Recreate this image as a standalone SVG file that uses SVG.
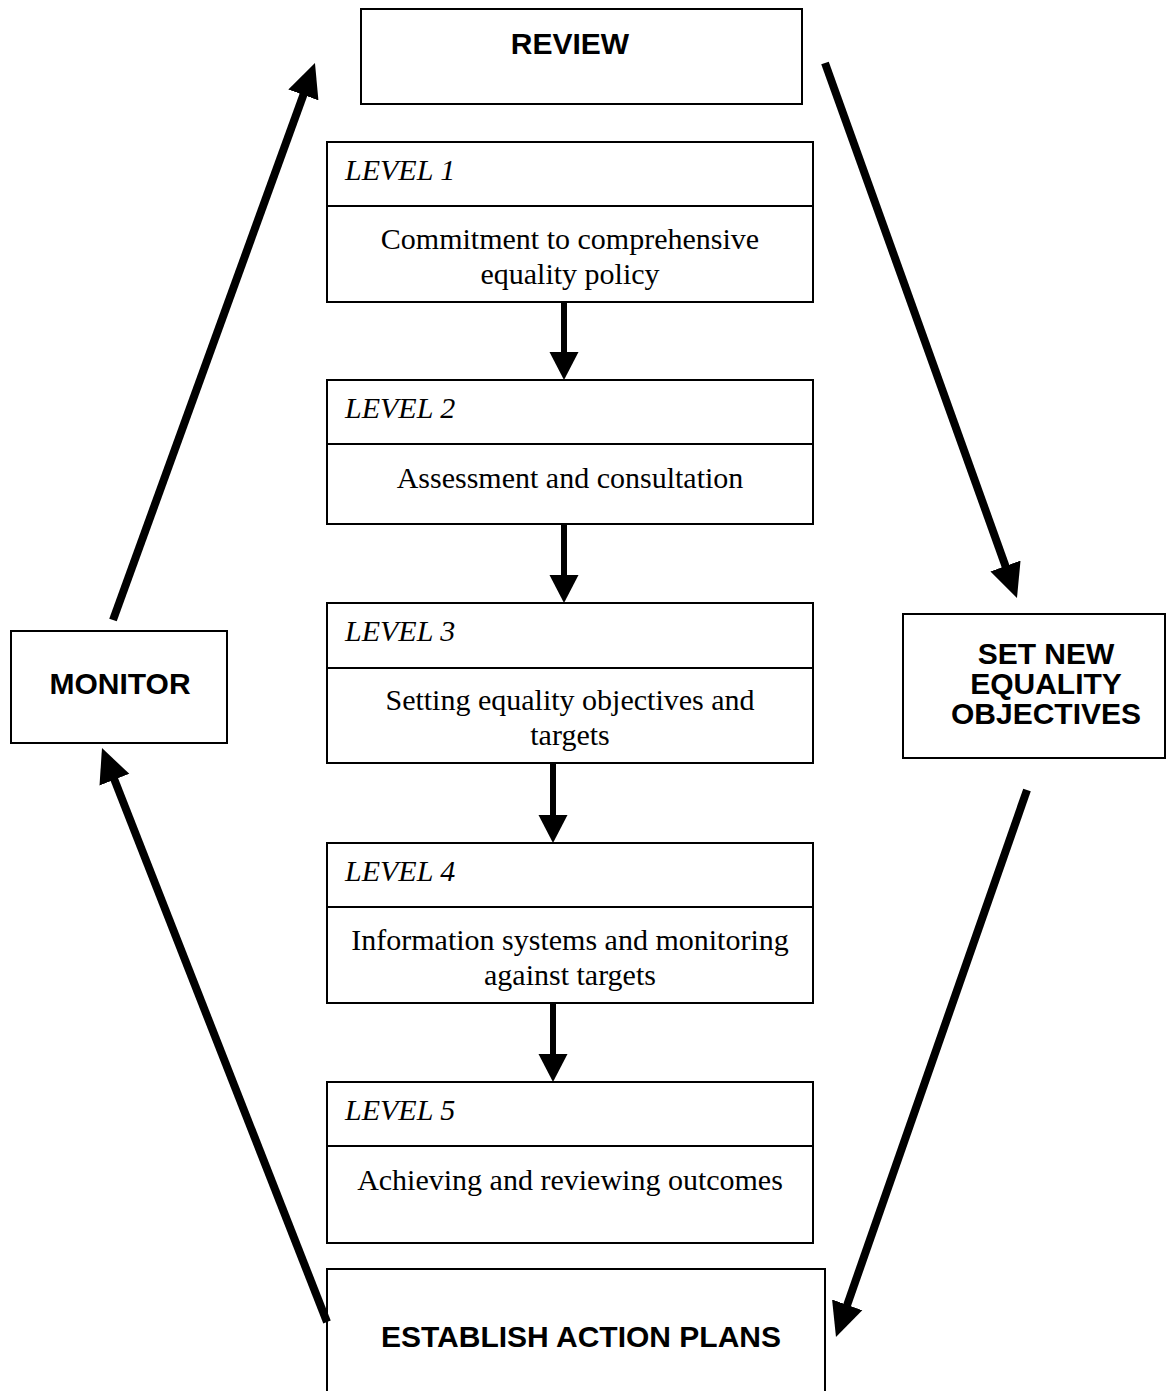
<svg xmlns="http://www.w3.org/2000/svg" width="1166" height="1391" viewBox="0 0 1166 1391">
<style>
.box{fill:#fff;stroke:#000;stroke-width:2}
.div{stroke:#000;stroke-width:2}
.sb{font-family:"Liberation Sans",Arial,sans-serif;font-weight:bold;font-size:30px;fill:#000}
.lv{font-family:"Liberation Serif","Times New Roman",serif;font-style:italic;font-size:30px;fill:#000}
.tx{font-family:"Liberation Serif","Times New Roman",serif;font-size:30px;fill:#000;text-anchor:middle}
.big{stroke:#000;stroke-width:8;fill:none;marker-end:url(#bigHead)}
.sm{stroke:#000;stroke-width:6;fill:none;marker-end:url(#smHead)}
</style>
<defs>
<marker id="bigHead" markerUnits="userSpaceOnUse" viewBox="0 0 34 34" markerWidth="34" markerHeight="34" refX="3" refY="17" orient="auto">
<path d="M0,1 L34,17 L0,33 Z" fill="#000"/>
</marker>
<marker id="smHead" markerUnits="userSpaceOnUse" viewBox="0 0 28 30" markerWidth="28" markerHeight="30" refX="2" refY="15" orient="auto">
<path d="M0,0.5 L28,15 L0,29.5 Z" fill="#000"/>
</marker>
</defs>
<rect width="1166" height="1391" fill="#fff"/>

<g id="review">
<rect class="box" x="361" y="9" width="441" height="95"/>
<text class="sb" x="570" y="54" text-anchor="middle">REVIEW</text>
</g>

<g id="level1">
<rect class="box" x="327" y="142" width="486" height="160"/>
<line class="div" x1="327" y1="206" x2="813" y2="206"/>
<text class="lv" x="345" y="180">LEVEL 1</text>
<text class="tx" x="570" y="249">Commitment to comprehensive</text>
<text class="tx" x="570" y="284">equality policy</text>
</g>

<g id="level2">
<rect class="box" x="327" y="380" width="486" height="144"/>
<line class="div" x1="327" y1="444" x2="813" y2="444"/>
<text class="lv" x="345" y="418">LEVEL 2</text>
<text class="tx" x="570" y="488">Assessment and consultation</text>
</g>

<g id="level3">
<rect class="box" x="327" y="603" width="486" height="160"/>
<line class="div" x1="327" y1="668" x2="813" y2="668"/>
<text class="lv" x="345" y="641">LEVEL 3</text>
<text class="tx" x="570" y="710">Setting equality objectives and</text>
<text class="tx" x="570" y="745">targets</text>
</g>

<g id="level4">
<rect class="box" x="327" y="843" width="486" height="160"/>
<line class="div" x1="327" y1="907" x2="813" y2="907"/>
<text class="lv" x="345" y="881">LEVEL 4</text>
<text class="tx" x="570" y="950">Information systems and monitoring</text>
<text class="tx" x="570" y="985">against targets</text>
</g>

<g id="level5">
<rect class="box" x="327" y="1082" width="486" height="161"/>
<line class="div" x1="327" y1="1146" x2="813" y2="1146"/>
<text class="lv" x="345" y="1120">LEVEL 5</text>
<text class="tx" x="570" y="1190">Achieving and reviewing outcomes</text>
</g>

<g id="monitor">
<rect class="box" x="11" y="631" width="216" height="112"/>
<text class="sb" x="120" y="694" text-anchor="middle">MONITOR</text>
</g>

<g id="set-new-objectives">
<rect class="box" x="903" y="614" width="262" height="144"/>
<text class="sb" x="1046" y="664" text-anchor="middle">SET NEW</text>
<text class="sb" x="1046" y="694" text-anchor="middle">EQUALITY</text>
<text class="sb" x="1046" y="724" text-anchor="middle">OBJECTIVES</text>
</g>

<g id="establish-action-plans">
<rect class="box" x="327" y="1269" width="498" height="130"/>
<text class="sb" x="581" y="1347" text-anchor="middle">ESTABLISH ACTION PLANS</text>
</g>

<g id="connectors">
<line class="sm" x1="564" y1="302" x2="564" y2="354"/>
<line class="sm" x1="564" y1="524" x2="564" y2="577"/>
<line class="sm" x1="553" y1="763" x2="553" y2="817"/>
<line class="sm" x1="553" y1="1003" x2="553" y2="1056"/>
<line class="big" x1="113" y1="620" x2="304.4" y2="92.1"/>
<line class="big" x1="825" y1="63" x2="1006.5" y2="568.8"/>
<line class="big" x1="1027" y1="790" x2="846.2" y2="1307.7"/>
<line class="big" x1="327" y1="1322" x2="113.3" y2="776.9"/>
</g>
</svg>
